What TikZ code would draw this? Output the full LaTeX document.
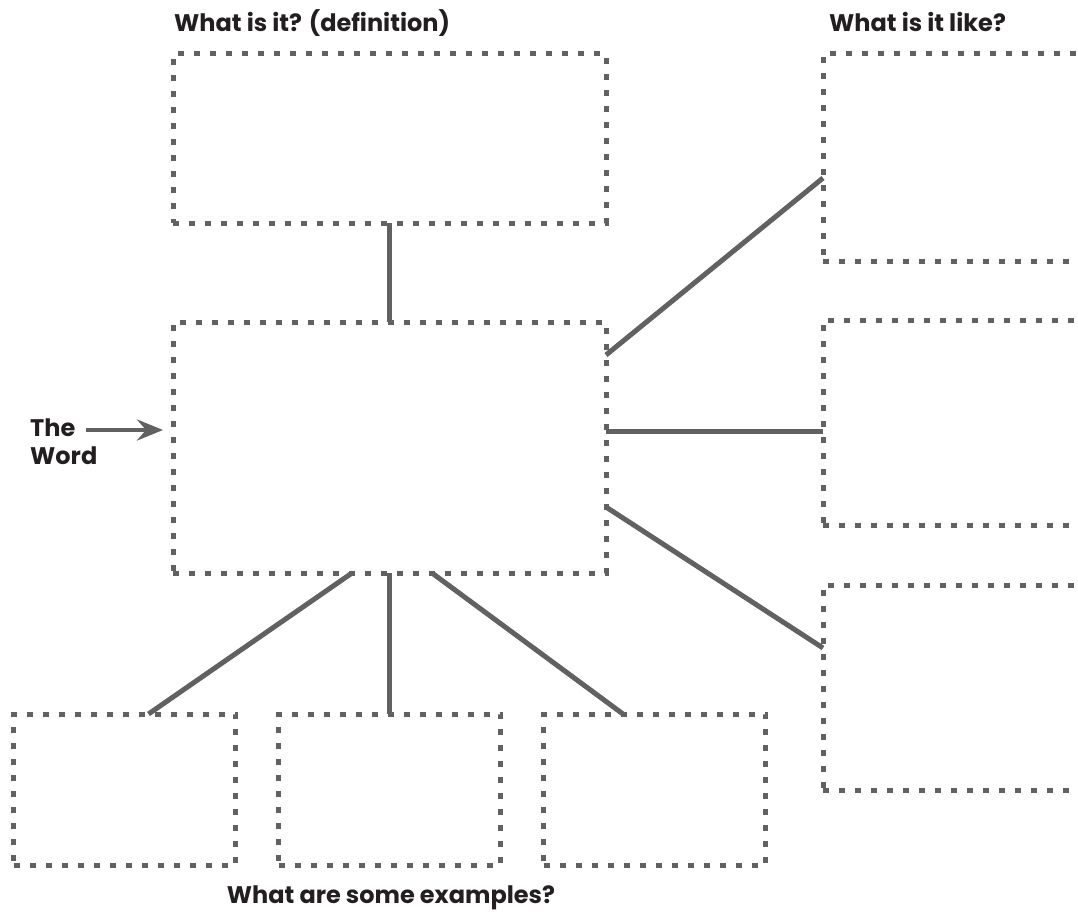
\documentclass[tikz,border=0pt]{standalone}
\usepackage{fontspec}
\setmainfont{Poppins}
\usetikzlibrary{positioning, arrows.meta}
\definecolor{linegray}{HTML}{616161}
\definecolor{inkblack}{HTML}{231F20}
\tikzset{
  box/.style={draw=linegray, line width=5pt, dash pattern=on 6pt off 10pt,
    inner sep=0pt, outer sep=0pt},
  link/.style={draw=linegray, line width=5pt},
  pointer/.style={draw=linegray, line width=4.5pt,
    -{Stealth[length=26pt, width=21pt, inset=9pt]}},
  caption/.style={text=inkblack, inner sep=0pt,
    font=\bfseries\fontsize{24}{28}\selectfont},
}

\begin{document}
\begin{tikzpicture}[x=1pt, y=-1pt]
  \useasboundingbox[fill=white] (0,0) rectangle (1078,912);

  % boxes
  \node[box, minimum width=433pt, minimum height=169pt] (def) at (389.5,138.5) {};
  \node[box, minimum width=433pt, minimum height=251pt, below=99pt of def] (word) {};
  \node[box, minimum width=222pt, minimum height=151pt, below=141pt of word] (ex2) {};
  \node[box, minimum width=222pt, minimum height=151pt, left=43pt of ex2] (ex1) {};
  \node[box, minimum width=222pt, minimum height=151pt, right=43pt of ex2] (ex3) {};
  \node[box, minimum width=287pt, minimum height=207pt] (like1) at (966.5,157.5) {};
  \node[box, minimum width=287pt, minimum height=205pt, below=59pt of like1] (like2) {};
  \node[box, minimum width=287pt, minimum height=205pt, below=60pt of like2] (like3) {};

  % links
  \draw[link] (def.south) -- (word.north);
  \draw[link] ([yshift=92.5pt]word.east) -- ([yshift=-20.5pt]like1.west);
  \draw[link] ([yshift=16.5pt]word.east) -- ([yshift=-8.5pt]like2.west);
  \draw[link] ([yshift=-59.5pt]word.east) -- ([yshift=39.5pt]like3.west);
  \draw[link] ([xshift=-37.5pt]word.south) -- ([xshift=24pt]ex1.north);
  \draw[link] (word.south) -- (ex2.north);
  \draw[link] ([xshift=42.5pt]word.south) -- ([xshift=-31.5pt]ex3.north);

  % labels
  \node[caption, anchor=base west] (deflabel) at (174,32) {What is it? (definition)};
  \node[caption, anchor=base west] (likelabel) at (829,32) {What is it like?};
  \node[caption, anchor=base] (exlabel) at (391,903) {What are some examples?};
  \node[caption, align=left, anchor=north west] (term) at (30,419) {The\\Word};
  \coordinate (tail) at (86,430);
  \draw[pointer] (tail) -- ([xshift=-10pt, yshift=17.5pt]word.west);
\end{tikzpicture}
\end{document}
